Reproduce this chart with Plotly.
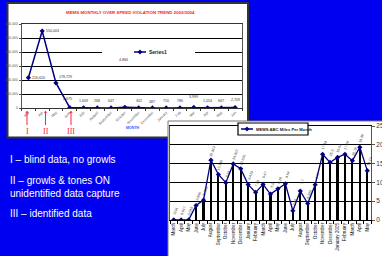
import plotly.graph_objects as go

W, H = 382, 256
def X(px): return px / W
def Y(py): return 1 - py / H

# ---------------- data ----------------
ovs_months = ["Mar", "Apr", "May", "June", "July", "August", "September", "October",
              "November", "December", "January", "Feb", "Mar", "Apr", "May", "Jun"]
ovs_values = [216620, 550003, 178729, 2675, 1609, 268, 647, 4866,
              302, 487, 710, 786, 3999, 1054, 667, 2709]

abc_months = ["March", "April", "May", "June", "July", "August", "September", "October",
              "November", "December", "January", "February", "March", "April", "May", "June",
              "July", "August", "September", "October", "November", "December", "January 2005",
              "February", "March", "April", "May"]
abc_values = [0.04, 0.017, 0.015, 3.846, 5.284, 15.913, 12.106, 9.94, 14.922, 13.626,
              9.419, 7.35, 9.47, 6.9, 8.28, 9.64, 2.46, 7.7, 4.399, 9.37,
              17.49, 15.3, 16.64, 17.49, 15.78, 19.35, 13.13]

title1 = "MEMS MONTHLY OVER SPEED VIOLATION TREND 2003/2004"
legend1 = "Series1"
legend2 = "MEMS ABC Miles Per Month"
notes = ["I \u2013 blind data, no growls", "II \u2013 growls & tones ON",
         "unidentified data capture", "III \u2013 identified data"]

BLUE = "#0000F0"
NAVY = "#000080"

fig = go.Figure()

fig.add_trace(go.Scatter(x=list(range(len(ovs_values))), y=ovs_values, mode="lines+markers",
                         line=dict(color=NAVY, width=1.5),
                         marker=dict(symbol="diamond", size=4, color=NAVY),
                         name=legend1, showlegend=False, xaxis="x", yaxis="y"))
fig.add_trace(go.Bar(x=list(range(len(abc_values))), y=abc_values, width=0.28,
                     marker=dict(color="black", line=dict(width=0)),
                     showlegend=False, xaxis="x2", yaxis="y2"))
fig.add_trace(go.Scatter(x=list(range(len(abc_values))), y=abc_values, mode="lines+markers",
                         line=dict(color=NAVY, width=1.3),
                         marker=dict(symbol="diamond", size=4, color=NAVY),
                         name=legend2, showlegend=False, xaxis="x2", yaxis="y2"))

ann = []
# chart 1 data labels
lab1_pos = [("left", 2, 0), ("left", 2, 0), ("left", 1, 6), ("center", -2, 9), ("center", 0, 7),
            ("center", 0, 7), ("center", 0, 7), ("center", -1, 47), ("center", 0, 7), ("center", 0, 6),
            ("center", 0, 7), ("center", 0, 7), ("center", 0, 10), ("center", 0, 7), ("center", 0, 7),
            ("center", 0, 8)]
for i, v in enumerate(ovs_values):
    xa, xs, ys = lab1_pos[i]
    ann.append(dict(x=i, y=v, xref="x", yref="y", text=f"{v:,}", showarrow=False,
                    xanchor=xa, yanchor="middle", xshift=xs, yshift=ys,
                    font=dict(size=3.6, color="#333", family="Arial")))
# chart 2 data labels
for i, v in enumerate(abc_values):
    ann.append(dict(x=i, y=v, xref="x2", yref="y2", text=f"{v:g}", showarrow=False,
                    textangle=-70, xanchor="center", yanchor="middle", xshift=2, yshift=9,
                    font=dict(size=3.6, color="#333", family="Arial")))

# titles / texts
ann.append(dict(x=X(130), y=Y(12.7), xref="paper", yref="paper", text="<b>" + title1 + "</b>",
                showarrow=False, xanchor="center", yanchor="middle",
                font=dict(size=4.4, color="#FF2020", family="Arial")))
ann.append(dict(x=X(133), y=Y(128), xref="paper", yref="paper", text="<b>MONTH</b>",
                showarrow=False, xanchor="center", yanchor="middle",
                font=dict(size=3.6, color="#3355FF", family="Arial")))
ann.append(dict(x=X(147), y=Y(52), xref="paper", yref="paper", text="<b>" + legend1 + "</b>",
                showarrow=False, xanchor="left", yanchor="middle",
                font=dict(size=5, color="#222", family="Arial")))
ann.append(dict(x=X(254), y=Y(129), xref="paper", yref="paper", text="<b>" + legend2 + "</b>",
                showarrow=False, xanchor="left", yanchor="middle",
                font=dict(size=4.2, color="#222", family="Arial")))
for t, py in zip(notes, [159, 180, 193, 213]):
    ann.append(dict(x=X(8), y=Y(py), xref="paper", yref="paper", text=t, showarrow=False,
                    xanchor="left", yanchor="middle",
                    font=dict(size=10, color="white", family="Arial")))
# roman numerals with arrows
for t, px in zip(["I", "II", "III"], [27, 45.5, 71]):
    ann.append(dict(x=X(px), y=Y(111), xref="paper", yref="paper", text=t, showarrow=True,
                    ax=0, ay=20, arrowcolor="#FF2040", arrowwidth=1, arrowhead=1, arrowsize=0.6,
                    standoff=0, startstandoff=0,
                    font=dict(size=8, color="#FF2040", family="Liberation Serif")))

shapes = [
    dict(type="rect", xref="paper", yref="paper", x0=X(7.5), x1=X(248), y0=Y(3), y1=Y(137.5),
         fillcolor="white", line=dict(color="#333", width=2), layer="below"),
    dict(type="rect", xref="paper", yref="paper", x0=X(168), x1=X(384), y0=Y(121), y1=Y(258),
         fillcolor="white", line=dict(color="#777", width=1), layer="below"),
    # legend 1 box (covers gridline)
    dict(type="rect", xref="paper", yref="paper", x0=X(102), x1=X(195), y0=Y(48), y1=Y(56),
         fillcolor="white", line=dict(width=0), layer="above"),
    dict(type="line", xref="paper", yref="paper", x0=X(134), x1=X(146), y0=Y(52), y1=Y(52),
         line=dict(color=NAVY, width=1.5), layer="above"),
    dict(type="path", xref="paper", yref="paper",
         path=f"M {X(140)},{Y(49.8)} L {X(142.2)},{Y(52)} L {X(140)},{Y(54.2)} L {X(137.8)},{Y(52)} Z",
         fillcolor=NAVY, line=dict(color=NAVY, width=0.5), layer="above"),
    # legend 2 box
    dict(type="rect", xref="paper", yref="paper", x0=X(238), x1=X(308), y0=Y(123), y1=Y(135),
         fillcolor="white", line=dict(color="black", width=1.2), layer="above"),
    dict(type="line", xref="paper", yref="paper", x0=X(241), x1=X(253), y0=Y(129), y1=Y(129),
         line=dict(color=NAVY, width=1.5), layer="above"),
    dict(type="path", xref="paper", yref="paper",
         path=f"M {X(247)},{Y(126.8)} L {X(249.2)},{Y(129)} L {X(247)},{Y(131.2)} L {X(244.8)},{Y(129)} Z",
         fillcolor=NAVY, line=dict(color=NAVY, width=0.5), layer="above"),
]

fig.update_layout(
    width=W, height=H, margin=dict(l=0, r=0, t=0, b=0, autoexpand=False),
    paper_bgcolor=BLUE, plot_bgcolor="rgba(0,0,0,0)",
    showlegend=False, bargap=0, hovermode=False,
    annotations=ann, shapes=shapes,
    xaxis=dict(domain=[X(21.5), X(242)], range=[-0.5, len(ovs_values) - 0.5], anchor="y",
               tickmode="array", tickvals=list(range(len(ovs_months))), ticktext=ovs_months,
               tickangle=-45, tickfont=dict(size=3.6, color="#555", family="Arial"),
               showline=True, linecolor="#333", linewidth=1, mirror=True, showgrid=False,
               zeroline=False, ticks="", automargin=False,
               minor=dict(tickmode="linear", tick0=-0.5, dtick=1, ticks="outside", ticklen=2,
                          tickcolor="#333", showgrid=False)),
    yaxis=dict(domain=[Y(108), Y(24)], range=[0, 600000], dtick=100000, tickformat=",",
               anchor="x", tickfont=dict(size=3.4, color="#555", family="Arial"),
               showline=True, linecolor="#555", linewidth=1, mirror=True, automargin=False,
               gridcolor="black", gridwidth=1, zeroline=False, ticks="outside", ticklen=2,
               tickcolor="#555"),
    xaxis2=dict(domain=[X(170), X(371)], range=[-0.5, len(abc_values) - 0.5], anchor="y2",
                tickmode="array", tickvals=list(range(len(abc_months))), ticktext=abc_months,
                tickangle=-90, tickfont=dict(size=4.6, color="#111", family="Arial"),
                showline=True, linecolor="black", linewidth=1, mirror=True, showgrid=False,
                zeroline=False, ticks="", automargin=False,
                minor=dict(tickmode="linear", tick0=-0.5, dtick=1, ticks="outside", ticklen=3,
                           tickcolor="black", showgrid=False)),
    yaxis2=dict(domain=[Y(220), Y(126)], range=[0, 25], dtick=5, anchor="x2", side="right",
                tickfont=dict(size=6.5, color="#333", family="Arial"),
                showline=True, linecolor="#555", linewidth=1, mirror=True, automargin=False,
                gridcolor="black", gridwidth=1, zeroline=False, ticks="outside", ticklen=3,
                tickcolor="#555"),
)

fig.write_html("out.html", config={"displayModeBar": False, "staticPlot": True},
               post_script="document.body.style.margin='0';document.body.style.background='%s';" % BLUE)
